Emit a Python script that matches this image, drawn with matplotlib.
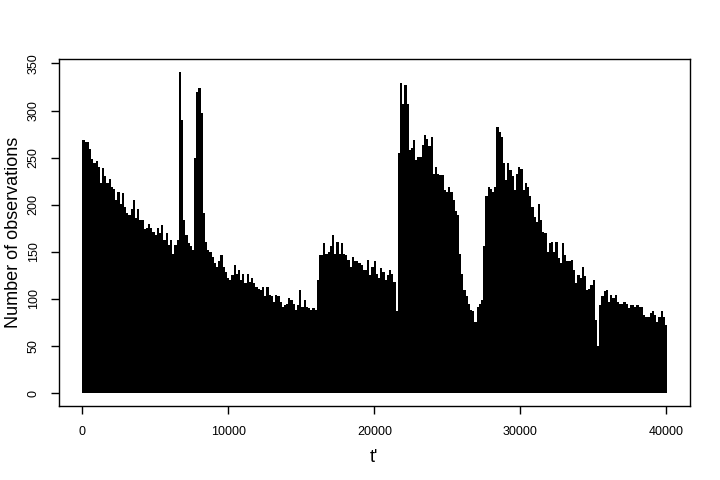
import numpy as np
import matplotlib.pyplot as plt

plt.rcParams['font.family'] = ['Liberation Sans', 'DejaVu Sans']

bin_width = 150
counts = [
    269, 267, 267, 259, 249, 244, 246, 240, 223, 239,
    230, 223, 227, 219, 217, 205, 214, 201, 212, 198,
    191, 189, 196, 205, 186, 196, 184, 184, 174, 175,
    180, 175, 171, 168, 175, 170, 179, 163, 170, 157,
    163, 148, 157, 163,
    341, 290, 184, 168, 159, 156, 152, 250, 320, 324,
    297, 191, 161, 152, 150, 145, 138, 134, 140, 147,
    134, 129, 122, 120, 125, 136, 127, 131, 120, 127,
    117, 127, 118, 122, 117, 113, 111, 110, 113, 103,
    113, 104, 103, 97, 104,
    103, 97, 92, 94, 95, 101, 99, 95, 88, 94,
    110, 92, 99, 92, 90, 88, 90, 88, 120, 147,
    147, 159, 148, 150, 156, 168, 148, 161, 148, 159,
    148, 147, 141, 134, 145, 140, 140, 138, 136, 131,
    131, 141, 125, 134, 140,
    127, 122, 133, 129, 120, 125, 131, 127, 118, 87,
    255, 329, 307, 327, 307, 258, 260, 269, 247, 251,
    251, 263, 274, 270, 262, 272, 233, 240, 233, 232,
    232, 216, 214, 219, 214, 205, 193, 189, 148, 127,
    110, 103, 95, 88,
    87, 76, 92, 95, 99, 156, 209, 219, 217, 214,
    219, 283, 277, 272, 244, 226, 244, 237, 230, 216,
    233, 240, 238, 216, 223, 219, 209, 198, 187, 182,
    201, 184, 171, 170, 150, 159, 161, 150, 161, 143,
    138, 159, 147, 140, 140,
    141, 131, 117, 125, 122, 134, 124, 110, 111, 115,
    120, 78, 50, 94, 103, 108, 110, 97, 104, 101,
    104, 97, 95, 95, 97, 95, 90, 94, 94, 92,
    94, 92, 92, 83, 81, 81, 85, 87, 83, 76,
    81, 87, 81, 72,
]
x_ticks = [0, 10000, 20000, 30000, 40000]
y_ticks = [0, 50, 100, 150, 200, 250, 300, 350]

t = np.arange(len(counts)) * bin_width

fig = plt.figure(figsize=(7.2, 4.8), dpi=100)
ax = fig.add_axes([0.082, 0.154, 0.876, 0.723])
ax.bar(t, counts, width=bin_width, align='edge', color='black', linewidth=0)

# R-style 4% padding
xr = 40000
yr = max(counts)
ax.set_xlim(-0.04 * xr, xr * 1.04)
ax.set_ylim(-0.04 * yr, yr * 1.04)

ax.set_xticks(x_ticks)
ax.set_xticklabels([str(v) for v in x_ticks])
ax.set_yticks(y_ticks)
ax.set_yticklabels([str(v) for v in y_ticks], rotation=90, va='center')
ax.tick_params(direction='out', length=6, width=1, labelsize=9, pad=8)
for s in ax.spines.values():
    s.set_linewidth(1)

ax.set_xlabel("t'", fontsize=13, labelpad=8)
ax.set_ylabel('Number of observations', fontsize=13, labelpad=4)

fig.savefig('out.png', dpi=100)
